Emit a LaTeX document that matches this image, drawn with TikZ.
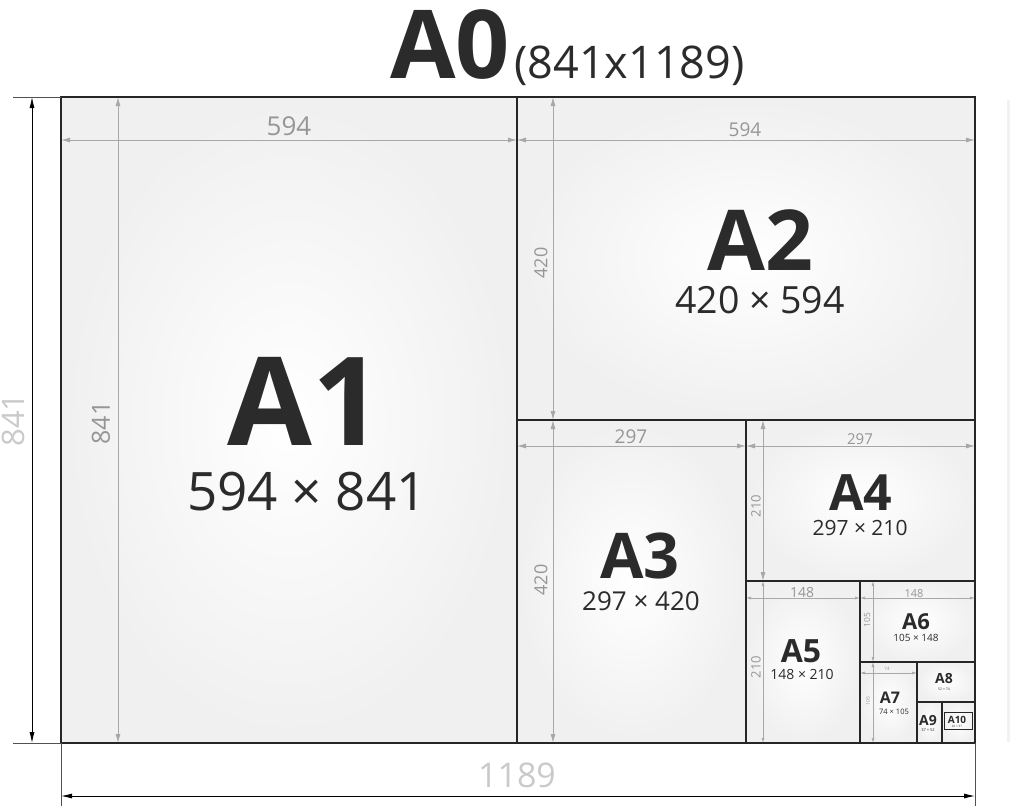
\documentclass[tikz,border=0pt]{standalone}
\usepackage{fontspec}
\setmainfont{Open Sans}
\usetikzlibrary{arrows.meta}
\definecolor{ink}{HTML}{2B2B2B}
\definecolor{dimgray}{HTML}{A8A8A8}
\definecolor{dimtext}{HTML}{969696}
\definecolor{outtext}{HTML}{CACACA}
\definecolor{framecol}{HTML}{262626}
\newcommand{\fs}[1]{\fontsize{#1}{#1}\selectfont}
\tikzset{
  sheet/.style={inner color=white, outer color=black!6},
  border/.style={draw=framecol, line width=1.4pt},
  dimline/.style={draw=dimgray, line width=0.9pt, {Latex[length=9pt,width=5pt]}-{Latex[length=9pt,width=5pt]}},
  dimsmall/.style={draw=dimgray, line width=0.7pt, {Latex[length=5pt,width=3pt]}-{Latex[length=5pt,width=3pt]}},
  outdim/.style={draw=black, line width=0.9pt, {Latex[length=11pt,width=5pt]}-{Latex[length=11pt,width=5pt]}},
  extline/.style={draw=framecol!80, line width=0.9pt},
  sheetname/.style={text=ink, inner sep=0pt, anchor=base},
  sheetsize/.style={text=ink, inner sep=0pt, anchor=base},
  dimlabel/.style={text=dimtext, inner sep=0pt, anchor=base},
  dimrot/.style={text=dimtext, inner sep=0pt, rotate=90},
}
\begin{document}
\begin{tikzpicture}[x=1pt,y=-1pt]
\useasboundingbox (0,0) rectangle (1024,806);
\fill[white] (0,0) rectangle (1024,806);
% faint right edge
\draw[black!5, line width=3pt] (1008,100) -- (1008,742);
% sheets
\shade[sheet] (61,97) rectangle (517,743);
\shade[sheet] (517,97) rectangle (975,420);
\shade[sheet] (517,420) rectangle (746,743);
\shade[sheet] (746,420) rectangle (975,581);
\shade[sheet] (746,581) rectangle (860,743);
\shade[sheet] (860,581) rectangle (975,662);
\shade[sheet] (860,662) rectangle (917,743);
\shade[sheet] (917,662) rectangle (975,702);
\shade[sheet] (917,702) rectangle (942,743);
\shade[sheet] (942,702) rectangle (975,743);
% inner dimension lines
\draw[dimline] (61,140) -- (517,140);
\draw[dimline] (118,97) -- (118,743);
\draw[dimline] (517,140) -- (975,140);
\draw[dimline] (553,97) -- (553,420);
\draw[dimline] (517,446) -- (746,446);
\draw[dimline] (553,420) -- (553,743);
\draw[dimline] (746,446) -- (975,446);
\draw[dimline] (763,420) -- (763,581);
\draw[dimsmall] (746,598) -- (860,598);
\draw[dimsmall] (763,581) -- (763,743);
\draw[dimsmall] (860,598) -- (975,598);
\draw[dimsmall] (873,581) -- (873,662);
\draw[dimsmall] (860,673) -- (917,673);
\draw[dimsmall] (873,662) -- (873,743);
% borders
\draw[border] (517,97) -- (517,743);
\draw[border] (517,420) -- (975,420);
\draw[border] (746,420) -- (746,743);
\draw[border] (746,581) -- (975,581);
\draw[border] (860,581) -- (860,743);
\draw[border] (860,662) -- (975,662);
\draw[border] (917,662) -- (917,743);
\draw[border] (917,702) -- (975,702);
\draw[border] (942,702) -- (942,743);
\draw[draw=framecol, line width=1pt] (944,712) rectangle (972,729);
\draw[draw=framecol, line width=1.8pt] (61,97) rectangle (975,743);
% outer dimensions
\draw[extline] (13,97) -- (61,97);
\draw[extline] (13,743) -- (61,743);
\draw[extline] (61,743) -- (61,806);
\draw[extline] (975,743) -- (975,806);
\draw[outdim] (32,97) -- (32,743);
\draw[outdim] (61,796) -- (975,796);
\node[text=outtext, inner sep=0pt, rotate=90, font=\fs{31}] (o841) at (13,420) {841};
\node[text=outtext, inner sep=0pt, anchor=base, font=\fs{34}] (o1189) at (517,787) {1189};
% title
\node[sheetname, anchor=base east, font=\bfseries\fs{95}] (a0) at (510,78) {A0};
\node[sheetsize, anchor=base west, font=\fs{45}] (a0s) at (514,78) {(841x1189)};
% dimension labels
\node[dimlabel, font=\fs{26}] (d1h) at (289,135) {594};
\node[dimrot, font=\fs{25}] (d1v) at (101,423) {841};
\node[dimlabel, font=\fs{19}] (d2h) at (745,136) {594};
\node[dimrot, font=\fs{18}] (d2v) at (541,263) {420};
\node[dimlabel, font=\fs{19}] (d3h) at (631,443) {297};
\node[dimrot, font=\fs{18}] (d3v) at (541,580) {420};
\node[dimlabel, font=\fs{15}] (d4h) at (860,444) {297};
\node[dimrot, font=\fs{13}] (d4v) at (756,506) {210};
\node[dimlabel, font=\fs{14}] (d5h) at (802,597) {148};
\node[dimrot, font=\fs{13}] (d5v) at (756,667) {210};
\node[dimlabel, font=\fs{11}] (d6h) at (914,597) {148};
\node[dimrot, font=\fs{8.5}] (d6v) at (867,620) {105};
\node[dimlabel, font=\fs{4.5}] (d7h) at (887,670) {74};
\node[dimrot, font=\fs{5}] (d7v) at (868,701) {105};
% sheet names
\node[sheetname, font=\bfseries\fs{123}] (n1) at (305,445) {A1};
\node[sheetsize, font=\fs{53}] (s1) at (307,510) {594 × 841};
\node[sheetname, font=\bfseries\fs{84}] (n2) at (760,270) {A2};
\node[sheetsize, font=\fs{37.5}] (s2) at (760,313) {420 × 594};
\node[sheetname, font=\bfseries\fs{63}] (n3) at (640,578) {A3};
\node[sheetsize, font=\fs{26}] (s3) at (641,610) {297 × 420};
\node[sheetname, font=\bfseries\fs{50}] (n4) at (861,510) {A4};
\node[sheetsize, font=\fs{21}] (s4) at (860,535) {297 × 210};
\node[sheetname, font=\bfseries\fs{32}] (n5) at (801,662) {A5};
\node[sheetsize, font=\fs{14}] (s5) at (802,679) {148 × 210};
\node[sheetname, font=\bfseries\fs{22}] (n6) at (916,629) {A6};
\node[sheetsize, font=\fs{10}] (s6) at (916,641) {105 × 148};
\node[sheetname, font=\bfseries\fs{16}] (n7) at (890,703) {A7};
\node[sheetsize, font=\fs{7.5}] (s7) at (894,714) {74 × 105};
\node[sheetname, font=\bfseries\fs{14}] (n8) at (944,683) {A8};
\node[sheetsize, font=\fs{3.5}] (s8) at (944,690) {52 × 74};
\node[sheetname, font=\bfseries\fs{14}] (n9) at (928,725) {A9};
\node[sheetsize, font=\fs{4}] (s9) at (928,731) {37 × 52};
\node[sheetname, font=\bfseries\fs{10}] (n10) at (957,723) {A10};
\node[sheetsize, font=\fs{3}] (s10) at (957,727) {26 × 37};
\end{tikzpicture}
\end{document}
